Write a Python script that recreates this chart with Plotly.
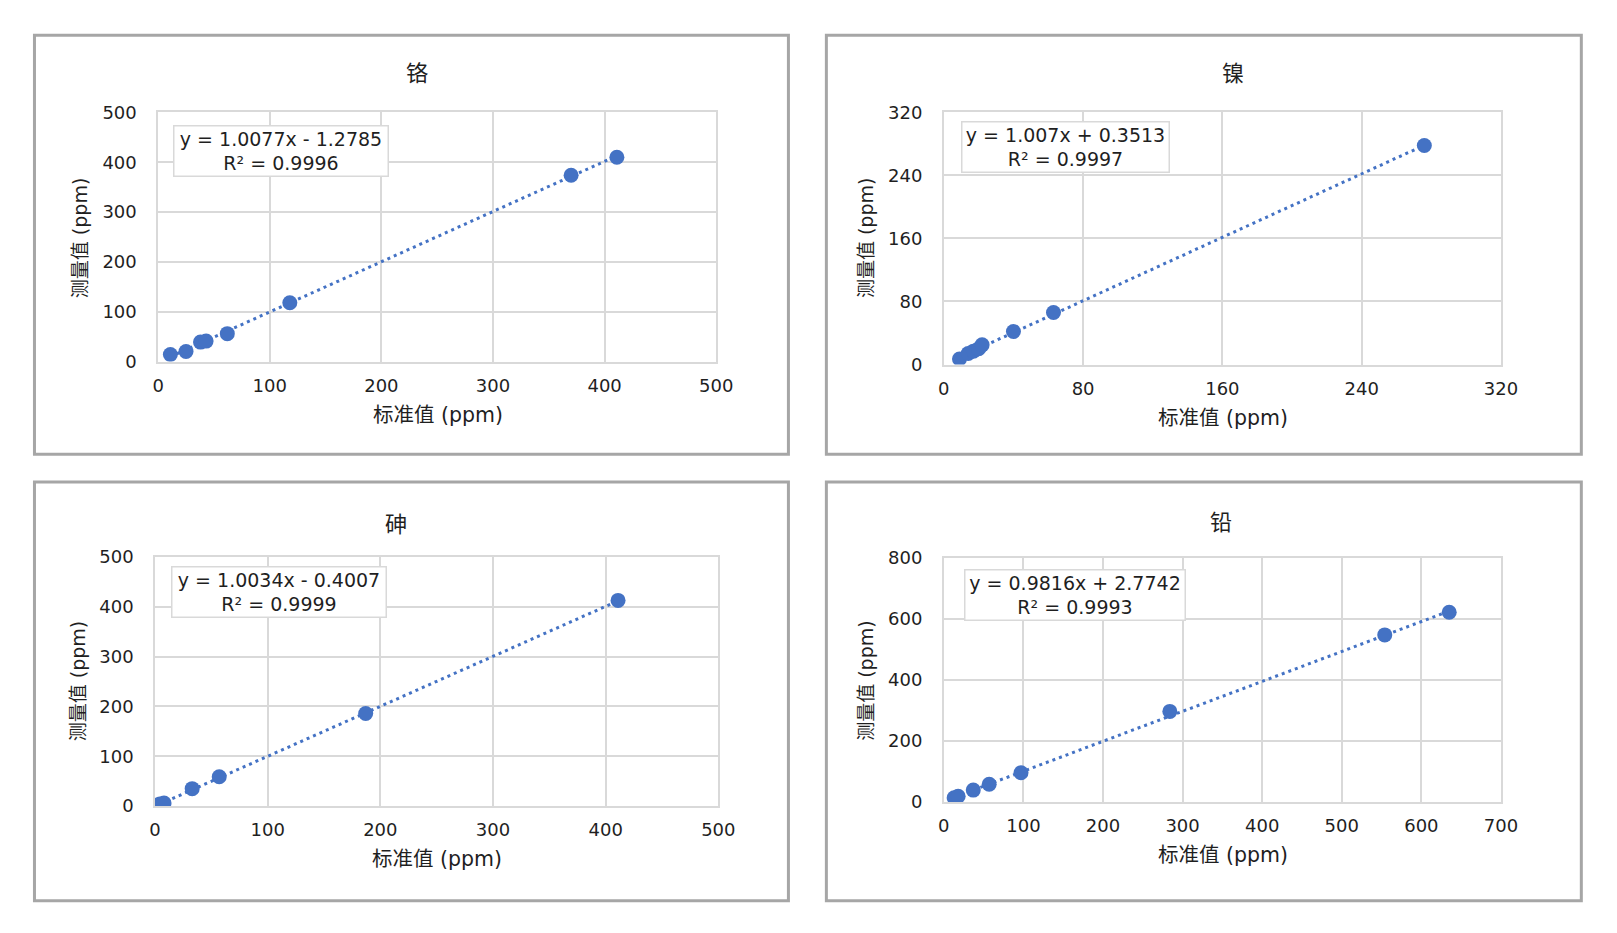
import plotly.graph_objects as go

# 数据
cr_std = [11, 25, 38, 43, 62, 118, 370, 411]
cr_meas = [14, 20, 39, 41, 56, 118, 374, 410]
cr_slope, cr_icpt = 1.0077, -1.2785
cr_eq = ["y = 1.0077x - 1.2785", "R² = 0.9996"]

ni_std = [9, 14, 17, 20, 22, 40, 63, 276]
ni_meas = [7, 14, 17, 20, 25, 42, 66, 278]
ni_slope, ni_icpt = 1.007, 0.3513
ni_eq = ["y = 1.007x + 0.3513", "R² = 0.9997"]

as_std = [4, 8, 33, 57, 187, 411]
as_meas = [4, 6, 35, 59, 186, 413]
as_slope, as_icpt = 1.0034, -0.4007
as_eq = ["y = 1.0034x - 0.4007", "R² = 0.9999"]

pb_std = [13, 18, 37, 57, 97, 284, 554, 635]
pb_meas = [14, 19, 39, 58, 96, 297, 548, 622]
pb_slope, pb_icpt = 0.9816, 2.7742
pb_eq = ["y = 0.9816x + 2.7742", "R² = 0.9993"]

titles = ["铬", "镍", "砷", "铅"]
x_title = "标准值 (ppm)"
y_title = "测量值 (ppm)"
x_ranges = [(0, 500, 100), (0, 320, 80), (0, 500, 100), (0, 700, 100)]
y_ranges = [(0, 500, 100), (0, 320, 80), (0, 500, 100), (0, 800, 200)]

W, H = 1601, 917
BLUE = "#4472C4"
GRID = "#d9d9d9"
FONT = "DejaVu Sans, Noto Sans CJK SC"
CJK = "Noto Sans CJK SC"

# screen pixel -> figure pixel (page margin / capture offset, measured from earlier renders)
def px(x):
    return ((x - 13.5) / 0.987) / W

def py(y):
    return 1 - ((y - 17.8) / 0.979) / H

# screen pixel layout: plot area (left, right, top, bottom), frame, title, axis titles, equation box
plots = [(157.8, 716.7, 111.4, 361), (944.6, 1502.5, 111.4, 364),
         (154.7, 718.8, 556.9, 806.4), (944.6, 1502.5, 557.9, 802.3)]
frames = [(34, 789, 34, 454), (827, 1583, 34, 454),
          (34, 789, 481.6, 901.3), (827, 1583, 481.6, 901.3)]
title_pos = [(416.6, 69.5), (1234, 69.5), (396, 521.5), (1222, 519.5)]
xt_pos = [(438, 414.5), (1224, 417.5), (437.3, 859), (1224, 855)]
yt_pos = [(79, 237), (866, 237), (77.3, 680.6), (866, 680.6)]
eq_pos = [(280.5, 150, 211), (1066, 146, 204), (278.5, 592, 211), (1075.5, 595, 217)]

series = [(cr_std, cr_meas, cr_slope, cr_icpt, cr_eq),
          (ni_std, ni_meas, ni_slope, ni_icpt, ni_eq),
          (as_std, as_meas, as_slope, as_icpt, as_eq),
          (pb_std, pb_meas, pb_slope, pb_icpt, pb_eq)]

fig = go.Figure()
shapes = []
annotations = []

def label(text, x, y, size, family=FONT, **kw):
    return dict(text=text, x=px(x), y=py(y), xref="paper", yref="paper", showarrow=False,
                xanchor="center", yanchor="middle",
                font=dict(family=family, size=size, color="#1f1f1f"), **kw)

for i, (xs, ys, k, b, eq) in enumerate(series):
    n = "" if i == 0 else str(i + 1)
    xa, ya = "x" + n, "y" + n
    # trendline across the data range
    x0, x1 = min(xs), max(xs)
    fig.add_trace(go.Scatter(x=[x0, x1], y=[k * x0 + b, k * x1 + b], xaxis=xa, yaxis=ya,
                             mode="lines", line=dict(color=BLUE, width=3, dash="3px,4px"),
                             hoverinfo="skip", showlegend=False))
    fig.add_trace(go.Scatter(x=xs, y=ys, xaxis=xa, yaxis=ya, mode="markers",
                             marker=dict(color=BLUE, size=15, line=dict(width=0)),
                             showlegend=False))

    l, r, t, btm = plots[i]
    xr, yr = x_ranges[i], y_ranges[i]
    axis_common = dict(showgrid=True, gridcolor=GRID, gridwidth=1.5, zeroline=False,
                       showline=True, linecolor=GRID, linewidth=1.5, mirror=True,
                       ticks="outside", tickcolor="rgba(0,0,0,0)",
                       tickfont=dict(family=FONT, size=18, color="#1f1f1f"), fixedrange=True)
    fig.layout["xaxis" + n] = dict(domain=[px(l), px(r)], range=[xr[0], xr[1]], dtick=xr[2],
                                   tick0=0, anchor=ya, ticklen=7, **axis_common)
    fig.layout["yaxis" + n] = dict(domain=[py(btm), py(t)], range=[yr[0], yr[1]], dtick=yr[2],
                                   tick0=0, anchor=xa, ticklen=16, **axis_common)

    fl, fr, ft, fb = frames[i]
    shapes.append(dict(type="rect", xref="paper", yref="paper", x0=px(fl), x1=px(fr),
                       y0=py(fb), y1=py(ft), line=dict(color="#a6a6a6", width=3)))

    annotations.append(label(titles[i], *title_pos[i], 22, family=CJK))
    annotations.append(label(x_title, *xt_pos[i], 20.5))
    annotations.append(label(y_title, *yt_pos[i], 19, textangle=-90))
    ex, ey, ew = eq_pos[i]
    annotations.append(label("<br>".join(eq), ex, ey, 19, align="center", width=ew,
                             bgcolor="white", bordercolor=GRID, borderwidth=1.5, borderpad=1))

fig.update_layout(width=W, height=H, margin=dict(l=0, r=0, t=0, b=0),
                  plot_bgcolor="white", paper_bgcolor="white",
                  shapes=shapes, annotations=annotations)

fig.write_html("out.html")
